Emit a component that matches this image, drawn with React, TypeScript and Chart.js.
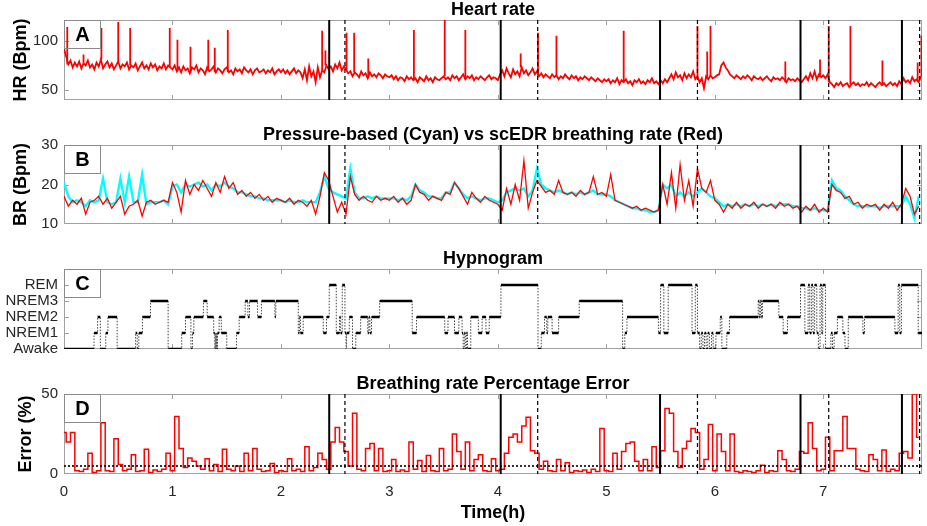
import { useEffect, useRef } from 'react';
import { Chart, registerables } from 'chart.js';

Chart.register(...registerables);

// ---- data ----
const T_MAX = 7.91; // hours shown on the x axis
const STEP = 0.04; // sample spacing (h) of the breathing / error series
const HR_STEP = 0.02; // sample spacing (h) of the heart-rate series
const xTicks = [0, 1, 2, 3, 4, 5, 6, 7];

const eventSolid = [2.445, 4.026, 5.495, 6.79, 7.725];
const eventDashed = [2.59, 4.367, 5.84, 7.05, 7.888];

// Heart rate (Bpm), one value every 0.02 h
const hrValues = [
  92, 84, 76, 80, 73, 78, 74, 79, 72, 77, 75, 80, 73, 76, 71, 78, 74, 81, 72, 76,
  79, 73, 77, 71, 75, 79, 72, 76, 74, 78, 71, 75, 73, 77, 70, 74, 78, 72, 75, 71,
  77, 73, 76, 70, 74, 72, 77, 71, 75, 73,
  71, 75, 69, 73, 68, 74, 70, 72, 67, 73, 71, 75, 68, 72, 70, 66, 73, 69, 71, 74,
  68, 72, 70, 67, 71, 73, 68, 70, 66, 72, 69, 71, 67, 73, 70, 68, 71, 66, 70, 72,
  68, 69, 71, 67, 70, 68, 72, 66, 69, 71,
  68, 71, 67, 70, 66, 69, 72, 67, 70, 68, 62, 71, 60, 74, 64, 69, 58, 73, 63, 70,
  68, 75, 71, 74, 69, 76, 72, 78, 70, 74, 71, 67, 69, 64, 68, 66, 63, 69, 65, 67,
  62, 68, 64, 66, 63, 67, 65, 62, 66, 64,
  63, 65, 61, 64, 60, 63, 62, 59, 64, 61, 63, 60, 62, 58, 63, 61, 59, 64, 60, 62,
  58, 63, 61, 60, 62, 64, 61, 63, 60, 65, 62, 64, 60, 63, 66, 61, 64, 62, 65, 60,
  63, 61, 64, 62, 60, 63, 65, 61, 63, 62,
  60, 66, 70, 64, 72, 67, 63, 71, 66, 69, 64, 73, 67, 70, 65, 68, 72, 66, 69, 64,
  67, 63, 66, 64, 62, 66, 63, 65, 61, 64, 62, 66, 63, 61, 65, 62, 64, 60, 63, 61,
  64, 62, 60, 63, 61, 59, 62, 60, 58, 61,
  59, 61, 57, 60, 58, 62, 56, 60, 58, 61, 57, 59, 55, 60, 58, 61, 57, 59, 56, 60,
  58, 62, 57, 59, 56, 60, 57, 61, 58, 62, 66, 61, 68, 63, 65, 60, 67, 62, 66, 63,
  69, 61, 64, 58, 62, 52, 64, 61, 65, 62,
  63, 65, 66, 75, 78, 73, 70, 66, 64, 62, 65, 63, 61, 64, 62, 65, 63, 60, 64, 62,
  61, 63, 60, 62, 64, 61, 59, 63, 61, 62, 60, 63, 61, 58, 62, 60, 61, 59, 62, 60,
  58, 61, 64, 60, 67, 62, 69, 61, 66, 63,
  65, 62, 66, 58, 56, 53, 57, 55, 58, 54, 56, 57, 53, 56, 58, 55, 57, 54, 56, 55,
  58, 54, 57, 55, 53, 56, 58, 55, 57, 54, 56, 58, 55, 57, 54, 59, 56, 62, 58, 60,
  57, 63, 59, 61, 58, 64,
];
const hrSpikeTimes = [
  0.03, 0.18, 0.345, 0.5, 0.61, 0.975, 1.046, 1.166, 1.33, 1.39, 1.51, 2.38, 2.41, 2.605, 2.675, 2.805,
  3.226, 3.51, 3.7, 4.21, 4.37, 4.54, 5.16, 5.84, 5.93, 5.96, 6.65, 6.97, 7.05, 7.25, 7.545, 7.87, 7.905,
];
const hrSpikePeaks = [
  114, 86, 113, 119, 113, 113, 101, 94, 101, 93, 111, 110, 90, 108, 108, 82,
  111, 121, 111, 87, 108, 105, 110, 115, 89, 115, 79, 81, 115, 115, 80, 78, 105,
];

// scEDR breathing rate (red), Bpm
const brScedr = [
  17, 14.5, 16, 15, 16.5, 12.5, 15.5, 16, 17, 15, 16.5, 14, 15.5, 17, 12.5, 14.5, 15, 16, 12, 15.5, 16, 15, 15.5, 16, 15.5,
  20.5, 18, 13, 21, 17.5, 20, 18.5, 21, 19, 17, 20.5, 18, 22, 19, 20.5, 17.5, 18.5, 17, 18, 16.5, 17.5, 16, 17, 15.5, 16.5,
  16, 15.5, 16.5, 15, 16, 15.5, 14.5, 16, 12.5, 17, 23, 21, 17, 13, 15.5, 12.5, 22, 17.5, 16, 17, 16, 15.5, 17, 16, 16.5,
  16, 17, 15.5, 16.5, 15, 16, 20, 18, 17.5, 16, 17, 16.5, 16, 18, 17.5, 20.5, 19, 17, 15, 18, 16.5, 15.5, 17, 16, 15.5,
  15, 13.5, 19, 15, 20, 16, 26, 14, 18, 21, 19.5, 18, 18.5, 17.5, 21, 18, 17.5, 18, 17, 18.5, 17.5, 18, 22, 17.5, 18,
  17, 22.5, 16, 15.5, 15, 14.5, 14, 14.5, 13.5, 14, 13.5, 13, 13.5, 20, 15, 23, 14, 25, 16, 21, 14.5, 24, 19, 18, 21,
  16, 15, 13, 15, 14, 15.5, 14, 15, 14.5, 15.5, 14, 15, 14.5, 15, 14, 15.5, 14.5, 15, 14, 14.5, 13, 14.5, 13.5, 15, 13,
  14, 13, 20, 18.5, 18, 16.5, 17, 15, 15.5, 14, 15, 14.5, 15, 13.5, 15, 14, 15.5, 13.5, 15, 19, 17, 12.5, 14.5,
];

// Pressure-based breathing rate (cyan), Bpm
const brPressure = [
  20.5, 17, 15.5, 16, 15.5, 14.5, 16, 15.5, 16, 21.5, 15.5, 15, 15.5, 21.5, 15.5, 22, 15.5, 15.5, 22.5, 15, 15.5, 15.5, 15.5, 16, 15,
  19.5, 20, 18, 20, 19.5, 20, 20.5, 19.5, 20, 18.5, 20, 19.5, 20.5, 19.5, 19, 18, 18, 17.5, 17, 17, 16.5, 16.5, 16, 16, 16,
  16, 15.5, 16, 15.5, 15.5, 16, 15.5, 15.5, 15.5, 18, 22, 19, 18, 17.5, 17, 16.5, 24, 18, 16.5, 16.5, 17, 16.5, 17, 16.5, 16.5,
  16.5, 16.5, 16, 16.5, 16, 17, 20, 18.5, 18, 17, 17, 16.5, 16.5, 18, 18, 20.5, 19, 17.5, 16.5, 17, 16.5, 16, 16.5, 16.5, 16,
  15.5, 16, 18, 18.5, 19, 18.5, 19, 17, 18.5, 24, 20, 19, 18.5, 18, 18.5, 18, 17.5, 18, 17.5, 18, 17.5, 18, 18.5, 17.5, 17.5,
  17.5, 17, 16, 15.5, 15, 14.5, 14, 14, 13.5, 13.5, 13, 13, 13.5, 20, 19, 20, 17, 18, 17, 18, 17, 18, 19, 18, 17,
  16.5, 15.5, 14.5, 15, 14.5, 15, 14.5, 15, 14.5, 15, 14.5, 15, 14.5, 15, 14.5, 15, 15, 15, 14.5, 14.5, 14, 14, 13.5, 14, 13.5,
  13.5, 13.5, 21, 19, 18.5, 17, 16, 15, 14.5, 14.5, 14.5, 14.5, 14.5, 14, 14.5, 14.5, 14.5, 14.5, 14.5, 17, 15, 11.5, 17,
];

// Hypnogram: stage changes (time in h, stage index)
const stageLabels = ['Awake', 'NREM1', 'NREM2', 'NREM3', 'REM'];
const hypnoTimes = [
  0, 0.277, 0.31, 0.335, 0.385, 0.405, 0.49, 0.66, 0.675, 0.69,
  0.723, 0.797, 0.96, 1.085, 1.12, 1.17, 1.185, 1.197, 1.285, 1.32,
  1.38, 1.39, 1.395, 1.4, 1.405, 1.41, 1.415, 1.43, 1.45, 1.5,
  1.59, 1.615, 1.67, 1.695, 1.71, 1.785, 1.82, 1.944, 1.953, 2.16,
  2.17, 2.18, 2.205, 2.39, 2.42, 2.445, 2.51, 2.54, 2.55, 2.565,
  2.59, 2.6, 2.605, 2.63, 2.66, 2.69, 2.735, 2.8, 2.81, 2.82,
  2.835, 2.91, 3.21, 3.25, 3.51, 3.54, 3.6, 3.64, 3.67, 3.68,
  3.69, 3.7, 3.71, 3.72, 3.75, 3.82, 3.855, 3.89, 3.92, 4.028,
  4.37, 4.4, 4.43, 4.45, 4.46, 4.5, 4.56, 4.75, 5.15, 5.17,
  5.19, 5.48, 5.5, 5.53, 5.57, 5.79, 5.82, 5.84, 5.86, 5.875,
  5.89, 5.905, 5.92, 5.935, 5.95, 5.97, 5.985, 6.01, 6.05, 6.065,
  6.11, 6.135, 6.4, 6.41, 6.42, 6.43, 6.44, 6.59, 6.63, 6.67,
  6.79, 6.83, 6.86, 6.875, 6.89, 6.905, 6.92, 6.94, 6.955, 6.97,
  6.985, 6.995, 7.02, 7.07, 7.085, 7.1, 7.13, 7.18, 7.2, 7.23,
  7.365, 7.38, 7.66, 7.69, 7.705, 7.72, 7.875,
];
const hypnoStages = [
  0, 1, 2, 0, 1, 2, 0, 1, 0, 1,
  2, 3, 0, 1, 2, 0, 1, 2, 3, 2,
  1, 0, 1, 0, 1, 0, 1, 2, 1, 0,
  1, 2, 3, 2, 3, 2, 3, 2, 3, 1,
  2, 1, 2, 1, 2, 4, 1, 2, 1, 4,
  1, 0, 1, 2, 0, 1, 2, 1, 2, 1,
  2, 3, 1, 2, 1, 2, 1, 2, 1, 0,
  1, 0, 1, 0, 2, 1, 2, 1, 2, 4,
  0, 1, 2, 1, 2, 1, 2, 3, 0, 1,
  2, 1, 4, 1, 4, 1, 4, 1, 0, 1,
  0, 1, 0, 1, 0, 1, 0, 1, 2, 0,
  1, 2, 3, 2, 3, 2, 3, 2, 1, 2,
  4, 1, 4, 1, 4, 1, 4, 1, 0, 4,
  1, 4, 0, 1, 0, 1, 2, 1, 0, 2,
  1, 2, 1, 4, 1, 4, 1,
];
const hypnoEnd = 7.91;

// Breathing rate percentage error (%)
const errValues = [
  26, 20, 26, 2, 1.5, 3, 13, 1, 2, 32, 2, 1.5, 22, 6, 2, 3, 12, 1.5, 2, 15.5, 1, 2.5, 1.5, 3, 13,
  2, 36, 16, 4, 10, 8, 5, 3, 9.5, 2, 6, 1.5, 15.5, 3, 2, 5, 1.5, 13, 2, 16, 3, 1.5, 2, 6.5, 1,
  2, 1.5, 9.5, 2, 3, 1.5, 17, 2, 4, 13, 9, 3, 20, 29, 20, 14, 5, 38, 3, 2, 16, 19, 2, 16, 1.5,
  2, 9, 1.5, 2.5, 1.5, 20, 3, 8.5, 1.5, 11.5, 2, 1.5, 16, 2, 3, 25, 14, 3, 20, 2, 9, 12, 2, 1.5, 9.5,
  2, 3, 13, 23, 25, 20, 30, 35.5, 14.5, 13, 3, 8, 2, 1.5, 9, 2, 7, 1, 2, 1.5, 2.5, 1, 3, 1.5, 28.5,
  2, 1.5, 13, 3, 14, 19, 20, 8, 2, 9, 2, 17, 4, 14.5, 41, 38, 14, 4, 16, 20.5, 28.5, 26, 3, 9, 31,
  2, 25, 14, 2, 25, 1.5, 1, 2, 1.5, 1, 2, 5.5, 1, 2, 1.5, 14.5, 9, 2, 1.5, 3, 14, 13, 32, 16, 2,
  3, 23, 2, 14.5, 14.5, 36, 16, 16, 3, 2, 1.5, 12, 9, 2, 15, 1.5, 3, 2, 13, 14, 10, 50, 23,
];
const errThreshold = 5;

// ---- layout / style ----
const W = 927;
const H = 526;
const PLOT_LEFT = 64;
const PLOT_RIGHT = 922;
const FONT = '"Liberation Sans", Arial, Helvetica, sans-serif';
const AXIS_GRAY = '#a0a0a0';
const TEXT = '#262626';
const RED = '#ff0000';
const CYAN = '#00ffff';

Chart.defaults.font.family = FONT;

const series = (values: number[], step = STEP) =>
  values.map((y, i) => ({ x: +(i * step).toFixed(3), y }));

const spikePoints = () => {
  const pts: { x: number; y: number | null }[] = [];
  hrSpikeTimes.forEach((t, i) => {
    const base = hrValues[Math.min(hrValues.length - 1, Math.round(t / HR_STEP))];
    pts.push({ x: t, y: base }, { x: t, y: hrSpikePeaks[i] }, { x: t, y: null });
  });
  return pts;
};

const hypnoSteps = () => {
  const pts = hypnoTimes.map((t, i) => ({ x: t, y: hypnoStages[i] }));
  pts.push({ x: hypnoEnd, y: hypnoStages[hypnoStages.length - 1] });
  return pts;
};

const hypnoFlats = () => {
  const pts: { x: number; y: number | null }[] = [];
  hypnoTimes.forEach((t, i) => {
    const end = i + 1 < hypnoTimes.length ? hypnoTimes[i + 1] : hypnoEnd;
    pts.push({ x: t, y: hypnoStages[i] }, { x: end, y: hypnoStages[i] }, { x: end, y: null });
  });
  return pts;
};

interface PanelCfg {
  top: number;
  bottom: number;
  title: string;
  letter: string;
  yLabel?: string;
  yLabelX?: number;
  xLabel?: string;
  yMin: number;
  yMax: number;
  yTicks: number[];
  yFormat?: (v: number) => string;
  events: boolean;
  datasets: any[];
}

const panels: PanelCfg[] = [
  {
    top: 20, bottom: 100, title: 'Heart rate', letter: 'A', yLabel: 'HR (Bpm)', yLabelX: 21,
    yMin: 40, yMax: 121, yTicks: [50, 100], events: true,
    datasets: [
      { data: series(hrValues, HR_STEP), borderColor: RED, borderWidth: 1.8 },
      { data: spikePoints(), borderColor: RED, borderWidth: 1.8, spanGaps: false },
    ],
  },
  {
    top: 145, bottom: 224, title: 'Pressure-based (Cyan) vs scEDR breathing rate (Red)', letter: 'B',
    yLabel: 'BR (Bpm)', yLabelX: 21, yMin: 10, yMax: 30, yTicks: [10, 20, 30], events: true,
    datasets: [
      { data: series(brScedr), borderColor: RED, borderWidth: 1.3 },
      { data: series(brPressure), borderColor: CYAN, borderWidth: 2.4 },
    ],
  },
  {
    top: 269, bottom: 349, title: 'Hypnogram', letter: 'C', yMin: 0, yMax: 5, yTicks: [0, 1, 2, 3, 4],
    yFormat: (v) => stageLabels[v] ?? '', events: false,
    datasets: [
      { data: hypnoFlats(), borderColor: '#000', borderWidth: 2.4, spanGaps: false, borderCapStyle: 'butt' },
      { data: hypnoSteps(), borderColor: '#444', borderWidth: 1, stepped: 'before', borderDash: [1.5, 1.5] },
    ],
  },
  {
    top: 394, bottom: 474, title: 'Breathing rate Percentage Error', letter: 'D', yLabel: 'Error (%)', yLabelX: 26,
    xLabel: 'Time(h)', yMin: 0, yMax: 50, yTicks: [0, 50], events: true,
    datasets: [
      { data: [{ x: 0, y: errThreshold }, { x: T_MAX, y: errThreshold }], borderColor: '#000', borderWidth: 1.6, borderDash: [2, 2] },
      { data: series(errValues), borderColor: RED, borderWidth: 1.5, stepped: 'middle' },
    ],
  },
];

const makeDecor = (p: PanelCfg) => ({
  id: 'decor',
  beforeDatasetsDraw(chart: any) {
    // axes box + inward ticks, under the data like MATLAB's box
    const { ctx, chartArea: a } = chart;
    const xs = chart.scales.x;
    const ys = chart.scales.y;
    const TICK = 5;
    ctx.save();
    ctx.strokeStyle = AXIS_GRAY;
    ctx.lineWidth = 1;
    ctx.strokeRect(a.left + 0.5, a.top + 0.5, a.right - a.left - 1, a.bottom - a.top - 1);
    ctx.beginPath();
    xTicks.forEach((v) => {
      const x = Math.round(xs.getPixelForValue(v)) + 0.5;
      if (x <= a.left + 1) return;
      ctx.moveTo(x, a.top);
      ctx.lineTo(x, a.top + TICK);
      ctx.moveTo(x, a.bottom);
      ctx.lineTo(x, a.bottom - TICK);
    });
    p.yTicks.forEach((v) => {
      const y = Math.round(ys.getPixelForValue(v)) + 0.5;
      if (y <= a.top + 1 || y >= a.bottom - 1) return;
      ctx.moveTo(a.left, y);
      ctx.lineTo(a.left + TICK, y);
      ctx.moveTo(a.right, y);
      ctx.lineTo(a.right - TICK, y);
    });
    ctx.stroke();
    ctx.restore();
  },
  afterDatasetsDraw(chart: any) {
    if (!p.events) return;
    const { ctx, chartArea: a } = chart;
    const xs = chart.scales.x;
    ctx.save();
    ctx.strokeStyle = '#000';
    ctx.lineWidth = 2;
    eventSolid.forEach((t) => {
      const x = xs.getPixelForValue(t);
      ctx.beginPath();
      ctx.moveTo(x, a.top);
      ctx.lineTo(x, a.bottom);
      ctx.stroke();
    });
    ctx.lineWidth = 1.2;
    ctx.setLineDash([4, 3]);
    eventDashed.forEach((t) => {
      const x = xs.getPixelForValue(t);
      ctx.beginPath();
      ctx.moveTo(x, a.top);
      ctx.lineTo(x, a.bottom);
      ctx.stroke();
    });
    ctx.restore();
  },
  afterDraw(chart: any) {
    const { ctx, chartArea: a } = chart;
    ctx.save();
    // panel letter box
    ctx.strokeStyle = '#8a8a8a';
    ctx.lineWidth = 1;
    ctx.strokeRect(a.left + 0.5, a.top + 0.5, 36, 28);
    ctx.fillStyle = '#000';
    ctx.textAlign = 'center';
    ctx.textBaseline = 'middle';
    ctx.font = `bold 20px ${FONT}`;
    ctx.fillText(p.letter, a.left + 18.5, a.top + 15);

    // title
    ctx.font = `bold 18px ${FONT}`;
    ctx.fillText(p.title, (a.left + a.right) / 2, a.top - 10);

    if (p.yLabel) {
      ctx.save();
      ctx.translate(p.yLabelX ?? 21, (a.top + a.bottom) / 2);
      ctx.rotate(-Math.PI / 2);
      ctx.fillText(p.yLabel, 0, 0);
      ctx.restore();
    }
    if (p.xLabel) {
      ctx.fillText(p.xLabel, (a.left + a.right) / 2, a.bottom + 39);
    }
    ctx.restore();
  },
});

const buildConfig = (p: PanelCfg): any => {
  // the x axis keeps its own box only where it shows labels (labels are clipped to it)
  const xAxisHeight = p.xLabel ? H - p.bottom : 0;
  return {
    type: 'line',
    data: {
      datasets: p.datasets.map((d) => ({ pointRadius: 0, tension: 0, fill: false, ...d })),
    },
    options: {
      responsive: false,
      maintainAspectRatio: false,
      animation: false,
      events: [],
      layout: {
        padding: { top: p.top, bottom: H - p.bottom - xAxisHeight, left: 0, right: W - PLOT_RIGHT },
      },
      plugins: { legend: { display: false }, tooltip: { enabled: false } },
      scales: {
        x: {
          type: 'linear',
          min: 0,
          max: T_MAX,
          grid: { display: false, drawTicks: false },
          border: { display: false },
          afterBuildTicks: (s: any) => { s.ticks = xTicks.map((v) => ({ value: v })); },
          afterFit: (s: any) => { s.height = xAxisHeight; },
          ticks: {
            display: !!p.xLabel,
            padding: 9,
            color: TEXT,
            maxRotation: 0,
            autoSkip: false,
            font: { family: FONT, size: 15 },
          },
        },
        y: {
          type: 'linear',
          min: p.yMin,
          max: p.yMax,
          grid: { display: false, drawTicks: false },
          border: { display: false },
          afterBuildTicks: (s: any) => { s.ticks = p.yTicks.map((v) => ({ value: v })); },
          afterFit: (s: any) => { s.width = PLOT_LEFT; },
          ticks: {
            padding: 6,
            color: TEXT,
            autoSkip: false,
            font: { family: FONT, size: 15 },
            callback: (v: any) => (p.yFormat ? p.yFormat(Number(v)) : String(v)),
          },
        },
      },
    },
    plugins: [makeDecor(p)],
  };
};

function Panel({ cfg }: { cfg: PanelCfg }) {
  const canvasRef = useRef<HTMLCanvasElement | null>(null);

  useEffect(() => {
    if (!canvasRef.current) return;
    const chart = new Chart(canvasRef.current, buildConfig(cfg));
    return () => chart.destroy();
  }, [cfg]);

  return (
    <canvas
      ref={canvasRef}
      width={W}
      height={H}
      style={{ position: 'absolute', left: 0, top: 0, width: W, height: H }}
    />
  );
}

export default function App() {
  return (
    <div style={{ position: 'absolute', left: 0, top: 0, width: W, height: H, background: '#fff' }}>
      {panels.map((p) => (
        <Panel key={p.letter} cfg={p} />
      ))}
    </div>
  );
}
